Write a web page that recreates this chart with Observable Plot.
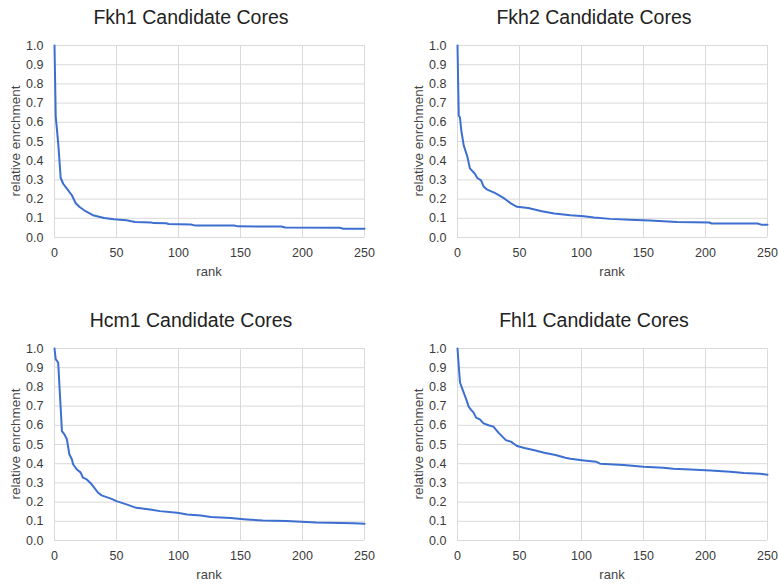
<!DOCTYPE html>
<html>
<head>
<meta charset="utf-8">
<script src="https://cdn.jsdelivr.net/npm/d3@7"></script>
<script src="https://cdn.jsdelivr.net/npm/@observablehq/plot@0.6"></script>
<style>
  html, body { margin: 0; padding: 0; background: #fff; overflow: hidden; }
  body { width: 778px; height: 585px; position: relative; font-family: "Liberation Sans", Arial, sans-serif; }
  .panel { position: absolute; width: 389px; height: 290px; }
  .title { position: absolute; left: 0; width: 382px; top: 6px; text-align: center; font-size: 19.5px; color: #222; white-space: nowrap; }
  .xlab { position: absolute; left: 54px; width: 310px; top: 264px; text-align: center; font-size: 13px; color: #444; }
  .ylab { position: absolute; left: 15px; top: 141px; font-size: 13.5px; color: #444; white-space: nowrap; transform: translate(-50%, -50%) rotate(-90deg); }
  .panel svg { position: absolute; left: 0; top: 30px; }
</style>
</head>
<body>
<script>
// ---- data ----
const titles = ["Fkh1 Candidate Cores", "Fkh2 Candidate Cores", "Hcm1 Candidate Cores", "Fhl1 Candidate Cores"];
const xTicks = [0, 50, 100, 150, 200, 250];
const yTicks = [0, 0.1, 0.2, 0.3, 0.4, 0.5, 0.6, 0.7, 0.8, 0.9, 1.0];
const xLabel = "rank";
const yLabel = "relative enrchment";

const fkh1Rank  = [0, 1, 3, 5, 7, 10, 14, 17, 20, 25, 31, 40, 48, 58, 65, 78, 80, 90, 92, 110, 113, 145, 148, 183, 186, 230, 233, 250];
const fkh1Value = [1.0, 0.63, 0.49, 0.31, 0.28, 0.255, 0.22, 0.18, 0.16, 0.137, 0.116, 0.102, 0.095, 0.09, 0.081, 0.078, 0.075, 0.074, 0.07, 0.068, 0.063, 0.062, 0.058, 0.057, 0.052, 0.051, 0.046, 0.046];

const fkh2Rank  = [0, 1, 2, 3, 5, 7, 8, 10, 14, 16, 19, 21, 24, 30, 34, 38, 43, 48, 57, 68, 78, 91, 102, 110, 123, 139, 155, 177, 203, 205, 242, 245, 250];
const fkh2Value = [1.0, 0.635, 0.625, 0.56, 0.48, 0.44, 0.42, 0.36, 0.332, 0.31, 0.298, 0.266, 0.249, 0.232, 0.218, 0.202, 0.178, 0.16, 0.154, 0.137, 0.125, 0.116, 0.111, 0.104, 0.097, 0.092, 0.088, 0.081, 0.078, 0.073, 0.073, 0.067, 0.067];

const hcm1Rank  = [0, 1, 2, 3, 4, 6, 8, 10, 12, 14, 15, 18, 21, 23, 26, 29, 32, 35, 38, 42, 46, 50, 58, 66, 77, 85, 99, 107, 118, 126, 142, 155, 168, 187, 211, 241, 250];
const hcm1Value = [1.0, 0.944, 0.936, 0.925, 0.805, 0.57, 0.553, 0.527, 0.449, 0.423, 0.397, 0.37, 0.355, 0.327, 0.318, 0.30, 0.275, 0.25, 0.235, 0.226, 0.217, 0.205, 0.188, 0.17, 0.162, 0.153, 0.144, 0.136, 0.13, 0.122, 0.117, 0.11, 0.104, 0.101, 0.094, 0.09, 0.087];

const fhl1Rank  = [0, 1, 2, 5, 6, 7, 9, 11, 13, 15, 18, 21, 25, 29, 33, 37, 39, 43, 48, 54, 62, 70, 79, 87, 91, 102, 112, 115, 134, 150, 166, 174, 188, 204, 220, 231, 244, 250];
const fhl1Value = [1.0, 0.91, 0.823, 0.77, 0.753, 0.736, 0.697, 0.68, 0.666, 0.64, 0.631, 0.61, 0.6, 0.593, 0.562, 0.536, 0.523, 0.515, 0.492, 0.482, 0.47, 0.457, 0.445, 0.431, 0.426, 0.417, 0.41, 0.4, 0.393, 0.384, 0.379, 0.374, 0.37, 0.365, 0.358, 0.351, 0.348, 0.343];

const series = [
  [fkh1Rank, fkh1Value],
  [fkh2Rank, fkh2Value],
  [hcm1Rank, hcm1Value],
  [fhl1Rank, fhl1Value]
];
const positions = [[0, 0], [403, 0], [0, 303], [403, 303]];

function makePanel(i) {
  const [ranks, vals] = series[i];
  const data = ranks.map((r, k) => ({rank: r, value: vals[k]}));
  const panel = document.createElement("div");
  panel.className = "panel";
  panel.style.left = positions[i][0] + "px";
  panel.style.top = positions[i][1] + "px";

  const t = document.createElement("div");
  t.className = "title";
  t.textContent = titles[i];
  panel.appendChild(t);

  const chart = Plot.plot({
    width: 389,
    height: 260,
    marginLeft: 54,
    marginRight: 25,
    marginTop: 15,
    marginBottom: 53,
    style: {fontFamily: "'Liberation Sans', Arial, sans-serif", fontSize: "12px", color: "#3a3a3a", background: "transparent"},
    x: {domain: [0, 250]},
    y: {domain: [0, 1]},
    marks: [
      Plot.gridX(xTicks, {stroke: "#d9d9d9", strokeOpacity: 1, strokeWidth: 1}),
      Plot.gridY(yTicks, {stroke: "#d9d9d9", strokeOpacity: 1, strokeWidth: 1}),
      Plot.axisX(xTicks, {tickSize: 0, tickPadding: 11, label: null, fontSize: 12.5}),
      Plot.axisY(yTicks, {tickSize: 0, tickPadding: 11, label: null, tickFormat: d3.format(".1f"), fontSize: 12.5}),
      Plot.line(data, {x: "rank", y: "value", stroke: "#3d6fd0", strokeWidth: 2})
    ]
  });
  panel.appendChild(chart);

  const xl = document.createElement("div");
  xl.className = "xlab";
  xl.textContent = xLabel;
  panel.appendChild(xl);

  const yl = document.createElement("div");
  yl.className = "ylab";
  yl.textContent = yLabel;
  panel.appendChild(yl);

  document.body.appendChild(panel);
}

for (let i = 0; i < 4; i++) makePanel(i);
</script>
</body>
</html>
